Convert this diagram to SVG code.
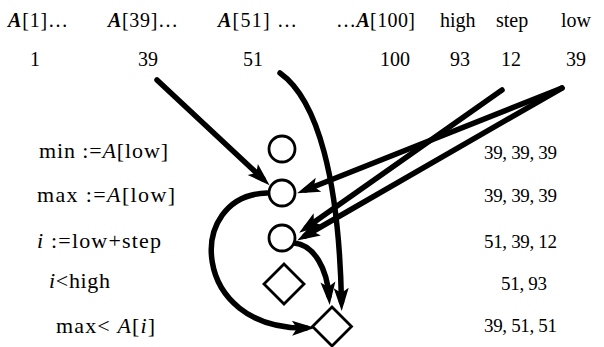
<svg xmlns="http://www.w3.org/2000/svg" width="604" height="347" viewBox="0 0 604 347">
<style>
text{font-family:"Liberation Serif","Times New Roman",serif;fill:#000}
.hd{font-size:20px}
.lb{font-size:22px}
.val{font-size:19px}
.it{font-style:italic}
.bi{font-style:italic;font-weight:bold}
.nd{fill:#fff;stroke:#000;stroke-width:2.8}
.cn{fill:none;stroke:#000;stroke-width:5.5;stroke-linecap:round}
</style>
<defs>
<marker id="ah" viewBox="-16 -9 26 18" refX="0" refY="0" markerWidth="26" markerHeight="18" markerUnits="userSpaceOnUse" orient="auto">
<path d="M9,0 L-14,-7.5 L-9,0 L-14,7.5 Z" fill="#000"/>
</marker>
</defs>
<g id="header">
<text class="hd" x="8" y="27" textLength="60"><tspan class="bi">A</tspan>[1]…</text>
<text class="hd" x="108" y="27" textLength="70"><tspan class="bi">A</tspan>[39]…</text>
<text class="hd" x="218" y="27" textLength="79"><tspan class="bi">A</tspan>[51] …</text>
<text class="hd" x="336" y="27" textLength="79">…<tspan class="bi">A</tspan>[100]</text>
<text class="hd" x="440" y="27">high</text>
<text class="hd" x="496" y="27">step</text>
<text class="hd" x="561" y="27">low</text>
<text class="hd" x="30" y="66">1</text>
<text class="hd" x="138" y="66">39</text>
<text class="hd" x="243" y="66">51</text>
<text class="hd" x="380" y="66">100</text>
<text class="hd" x="450" y="66">93</text>
<text class="hd" x="501" y="66">12</text>
<text class="hd" x="566" y="66">39</text>
</g>
<g id="labels">
<text class="lb" x="39" y="158" textLength="129">min :=<tspan class="it">A</tspan>[low]</text>
<text class="lb" x="37" y="202" textLength="138">max :=<tspan class="it">A</tspan>[low]</text>
<text class="lb" x="37" y="248" textLength="124"><tspan class="it">i</tspan> :=low+step</text>
<text class="lb" x="49" y="288" textLength="61"><tspan class="it">i</tspan>&lt;high</text>
<text class="lb" x="56" y="333" textLength="99">max&lt; <tspan class="it">A</tspan>[<tspan class="it">i</tspan>]</text>
<text class="val" x="484" y="159" textLength="73">39, 39, 39</text>
<text class="val" x="484" y="202" textLength="73">39, 39, 39</text>
<text class="val" x="484" y="248" textLength="73">51, 39, 12</text>
<text class="val" x="501" y="290" textLength="46">51, 93</text>
<text class="val" x="484" y="332" textLength="73">39, 51, 51</text>
</g>
<g id="connectors">
<path class="cn" d="M157,80 L263,179" marker-end="url(#ah)"/>
<path class="cn" d="M280,73 C318,100 339,180 341.5,302" marker-end="url(#ah)"/>
<path class="cn" d="M502,90 L306.5,227.5" marker-end="url(#ah)"/>
<path class="cn" d="M562,88 L305.5,190" marker-end="url(#ah)"/>
<path class="cn" d="M562,88 L305,236" marker-end="url(#ah)"/>
<path class="cn" d="M267,193 C185,195 190,330 306,328" marker-end="url(#ah)"/>
<path class="cn" d="M294,243 C315,245 327,270 329,296" marker-end="url(#ah)"/>
</g>
<g id="n1"><circle class="nd" cx="282" cy="149" r="13"/></g>
<g id="n2"><circle class="nd" cx="282" cy="193" r="13"/></g>
<g id="n3"><circle class="nd" cx="282" cy="238" r="13"/></g>
<g id="n4"><path class="nd" d="M284,264 L304,284 L284,304 L264,284 Z"/></g>
<g id="n5"><path class="nd" d="M332,307 L351.5,326.5 L332,346 L312.5,326.5 Z"/></g>
</svg>
